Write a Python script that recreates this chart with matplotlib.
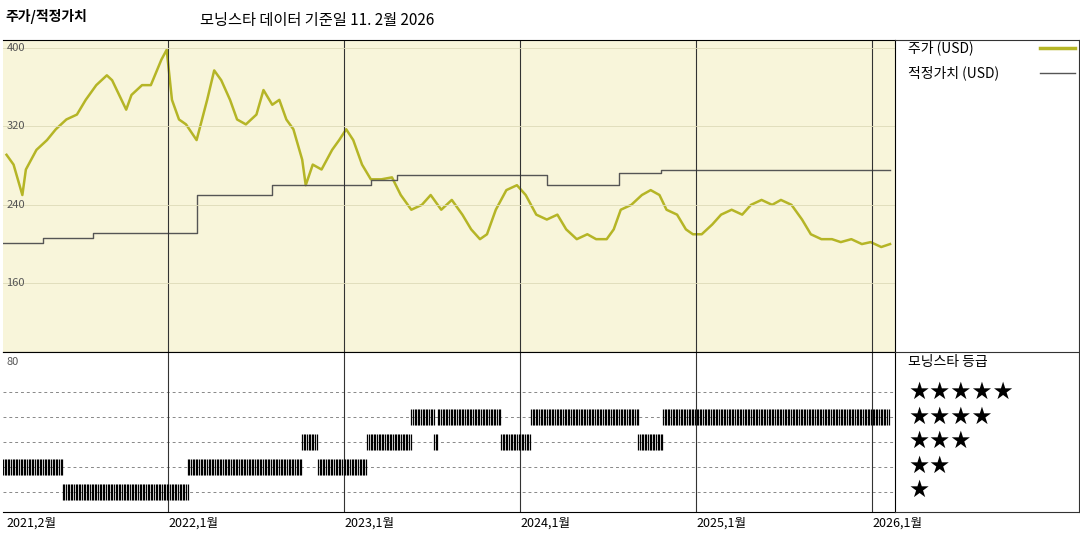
import matplotlib
matplotlib.use("Agg")
import matplotlib.pyplot as plt
import numpy as np

plt.rcParams['font.family'] = ['Noto Sans CJK KR', 'DejaVu Sans']

price_t = [2021.08,2021.12,2021.17,2021.19,2021.25,2021.31,2021.36,2021.42,2021.48,2021.53,2021.59,2021.65,2021.68,2021.72,2021.76,2021.79,2021.85,2021.90,2021.96,2021.99,2022.02,2022.06,2022.10,2022.16,2022.22,2022.26,2022.30,2022.35,2022.39,2022.44,2022.50,2022.54,2022.59,2022.63,2022.67,2022.71,2022.76,2022.78,2022.82,2022.87,2022.93,2022.97,2023.01,2023.05,2023.10,2023.15,2023.21,2023.27,2023.32,2023.38,2023.44,2023.49,2023.55,2023.61,2023.67,2023.72,2023.77,2023.81,2023.86,2023.92,2023.98,2024.03,2024.09,2024.15,2024.21,2024.26,2024.32,2024.38,2024.43,2024.49,2024.53,2024.57,2024.63,2024.69,2024.74,2024.79,2024.83,2024.89,2024.94,2024.98,2025.03,2025.09,2025.14,2025.20,2025.26,2025.31,2025.37,2025.43,2025.48,2025.54,2025.60,2025.65,2025.71,2025.77,2025.82,2025.88,2025.94,2025.99,2026.05,2026.10]
price_v = [291,281,250,276,296,306,317,327,332,347,362,372,367,352,337,352,362,362,388,398,347,327,322,306,347,377,367,347,327,322,332,357,342,347,327,317,286,260,281,276,296,306,317,306,281,266,266,268,250,235,240,250,235,245,230,215,205,210,235,255,260,250,230,225,230,215,205,210,205,205,215,235,240,250,255,250,235,230,215,210,210,220,230,235,230,240,245,240,245,240,225,210,205,205,202,205,200,202,197,200]

fv_t = [2021.06,2021.29,2021.57,2022.16,2022.59,2023.15,2023.30,2024.15,2024.56,2024.80,2026.10]
fv_v = [201,206,211,250,260,265,270,260,272,276,276]

rating_start = [2021.06,2021.40,2022.11,2022.76,2022.85,2023.13,2023.38,2023.51,2023.53,2023.89,2024.06,2024.67,2024.81]
rating_end   = [2021.40,2022.11,2022.76,2022.85,2023.13,2023.38,2023.51,2023.53,2023.89,2024.06,2024.67,2024.81,2026.10]
rating_val   = [2,1,2,3,2,3,4,3,4,3,4,3,4]

tick_pos = [2021.08,2022.0,2023.0,2024.0,2025.0,2026.0]
tick_lab = ['2021,2월','2022,1월','2023,1월','2024,1월','2025,1월','2026,1월']

W, H = 1080, 540
fig = plt.figure(figsize=(10.8, 5.4), dpi=100)
xlim = (2021.06, 2021.06 + 892/176)
price_col = '#b5b526'
bg = '#f8f5da'

ax = fig.add_axes([3/W, 1-352/H, 892/W, 312/H])
ax.set_facecolor(bg)
ax.plot(price_t, price_v, color=price_col, lw=1.8)
ax.step(fv_t, fv_v, where='post', color='#555555', lw=1)
ax.set_xlim(*xlim)
ax.set_ylim(90, 408)
ax.set_xticks([]); ax.set_yticks([])
for sp in ['left']:
    ax.spines[sp].set_visible(False)
for t in tick_pos[1:]:
    ax.axvline(t, color='#333333', lw=0.8)
for v in [400,320,240,160]:
    ax.text(xlim[0]+0.02, v, str(v), fontsize=8, color='#555555', va='center')
    ax.axhline(v, color='#dddab8', lw=0.6)

bx = fig.add_axes([3/W, 28/H, 892/W, 160/H])
bx.set_xlim(*xlim)
bx.set_ylim(0.2, 6.6)
bx.set_xticks([]); bx.set_yticks([])
bx.spines['left'].set_visible(False)
for r in [1,2,3,4,5]:
    bx.axhline(r, color='#888888', lw=0.7, ls=(0,(3,3)))
for t in tick_pos[1:]:
    bx.axvline(t, color='#333333', lw=0.8)
for s, e, r in zip(rating_start, rating_end, rating_val):
    xs = np.arange(s, e, 1/110)
    bx.vlines(xs, r-0.32, r+0.32, color='black', lw=0.9)
bx.text(xlim[0]+0.02, 6.2, '80', fontsize=8, color='#555555', va='center')

for t, lab in zip(tick_pos, tick_lab):
    xf = (3 + (t-xlim[0])/(xlim[1]-xlim[0])*892)/W
    fig.text(xf, 1-523/H, lab, fontsize=9, va='center', ha='left')

fig.add_artist(plt.Line2D([895/W, 1079/W], [1-40/H, 1-40/H], color='#333333', lw=0.8))
fig.add_artist(plt.Line2D([895/W, 1079/W], [1-352/H, 1-352/H], color='#333333', lw=0.8))
fig.add_artist(plt.Line2D([895/W, 1079/W], [1-512/H, 1-512/H], color='#333333', lw=0.8))
fig.add_artist(plt.Line2D([1079/W, 1079/W], [1-40/H, 1-512/H], color='#333333', lw=0.8))

fig.text(5/W, 1-17/H, '주가/적정가치', fontsize=10, fontweight='bold', va='center')
fig.text(200/W, 1-20/H, '모닝스타 데이터 기준일 11. 2월 2026', fontsize=11, va='center')
fig.text(908/W, 1-48/H, '주가 (USD)', fontsize=10, va='center')
fig.add_artist(plt.Line2D([1040/W, 1075/W], [1-48/H, 1-48/H], color=price_col, lw=2.5))
fig.text(908/W, 1-73/H, '적정가치 (USD)', fontsize=10, va='center')
fig.add_artist(plt.Line2D([1040/W, 1075/W], [1-73/H, 1-73/H], color='#555555', lw=1))
fig.text(908/W, 1-362/H, '모닝스타 등급', fontsize=10, va='center')
for i, n in enumerate([5,4,3,2,1]):
    fig.text(908/W, 1-(392+i*24.5)/H, '★'*n, fontsize=17, va='center', family=['DejaVu Sans'])

fig.savefig('out.png', dpi=100)
